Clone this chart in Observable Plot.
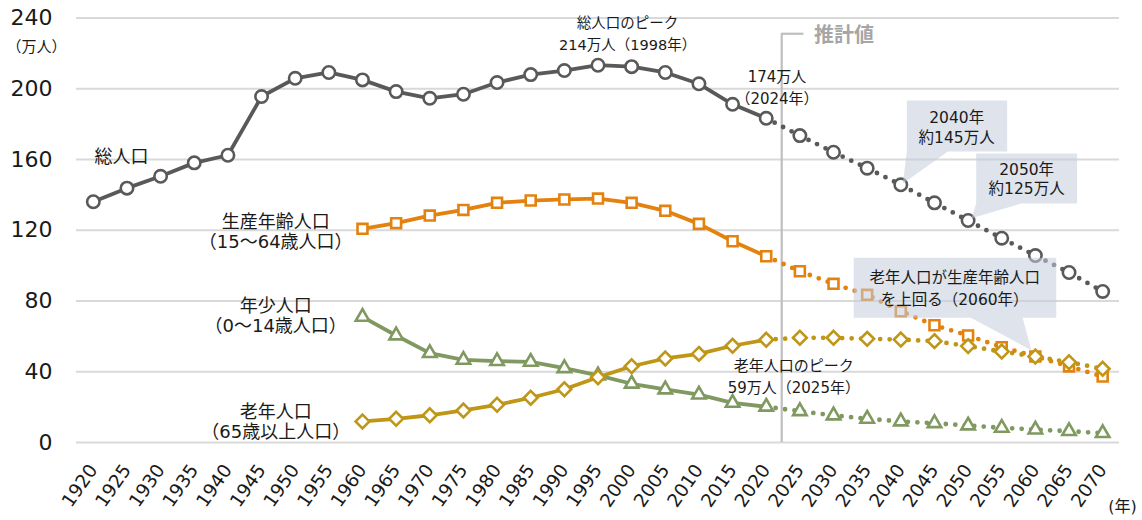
<!DOCTYPE html>
<html>
<head>
<meta charset="utf-8">
<script src="https://cdn.jsdelivr.net/npm/d3@7"></script>
<script src="https://cdn.jsdelivr.net/npm/@observablehq/plot@0.6"></script>
<style>
  html, body { margin: 0; padding: 0; background: #fff; }
  #chart { width: 1142px; height: 520px; }
</style>
</head>
<body>
<div id="chart"></div>
<script>
// ---- data (万人) ----
const years = [1920,1925,1930,1935,1940,1945,1950,1955,1960,1965,1970,1975,1980,1985,1990,1995,2000,2005,2010,2015,2020,2025,2030,2035,2040,2045,2050,2055,2060,2065,2070];
const total = [136.1,143.8,150.5,158.1,162.4,195.6,205.9,209.2,205.0,198.4,194.6,196.9,203.5,208.0,210.3,213.3,212.5,209.2,202.8,191.2,183.3,173.5,164.1,155.1,145.7,135.5,125.5,115.5,105.7,96.1,85.4];
const ageYears = [1960,1965,1970,1975,1980,1985,1990,1995,2000,2005,2010,2015,2020,2025,2030,2035,2040,2045,2050,2055,2060,2065,2070];
const working = [120.8,124.0,128.3,131.5,135.5,136.8,137.4,137.9,135.5,131.0,123.6,113.8,105.3,96.8,89.7,83.5,74.2,66.3,60.5,53.9,48.6,43.0,37.3];
const young = [71.0,60.5,50.5,46.7,46.0,45.6,42.0,37.9,33.2,30.0,27.1,22.4,20.2,17.7,15.3,13.4,11.9,10.9,9.6,8.3,7.3,6.4,5.3];
const elderly = [11.9,13.4,15.4,18.1,21.3,25.3,30.1,36.9,43.1,47.5,50.1,54.7,58.1,59.2,59.2,58.6,58.2,57.3,54.5,51.4,48.6,45.4,41.7];
const yTicks = [0,40,80,120,160,200,240];
const lastActual = 2020;
const estimateStart = 2022.3;

// ---- series table ----
const seriesDefs = [
  {name: "総人口", years: years, values: total, color: "#595959", symbol: "circle", r: 6.2},
  {name: "生産年齢人口", years: ageYears, values: working, color: "#E3820E", symbol: "square", r: 5.6},
  {name: "年少人口", years: ageYears, values: young, color: "#7F9960", symbol: "triangle", r: 5.0},
  {name: "老年人口", years: ageYears, values: elderly, color: "#BF9616", symbol: "diamond2", r: 6.2}
];

const marks = [];
// gridlines
marks.push(Plot.ruleY(yTicks, {stroke: "#D9D9D9", strokeWidth: 2}));

// estimate divider
marks.push(Plot.ruleX([estimateStart], {y1: 0, y2: 231.1, stroke: "#BFBFBF", strokeWidth: 2.2}));
marks.push(Plot.ruleY([231.1], {x1: estimateStart, x2: 2025.6, stroke: "#BFBFBF", strokeWidth: 2.2}));
marks.push(Plot.text(["推計値"], {x: 2027.1, y: 230.2, textAnchor: "start", fontSize: 20, fontWeight: "bold", fill: "#A6A6A6"}));

for (const s of seriesDefs) {
  const rows = s.years.map((y, i) => ({year: y, v: s.values[i]}));
  marks.push(Plot.line(rows.filter(d => d.year <= lastActual), {x: "year", y: "v", stroke: s.color, strokeWidth: 3.8}));
  marks.push(Plot.line(rows.filter(d => d.year >= lastActual), {x: "year", y: "v", stroke: s.color, strokeWidth: 4.8, strokeDasharray: "0 9.5", strokeLinecap: "round"}));
  marks.push(Plot.dot(rows, {x: "year", y: "v", symbol: () => s.symbol, r: s.r, stroke: s.color, fill: "white", strokeWidth: 2.6}));
}

// callouts (box + pointer as one polygon, in data coordinates)
const callouts = [
  {id: 1, box: [2040.9, 2055.8, 164.5, 193.3], base: [2047.0, 2040.9], tip: [2040.3, 146.5],
   text: "2040年\n約145万人", tx: 2048.3, ty: 178.6, lh: 1.33},
  {id: 2, box: [2051.2, 2066.2, 135.1, 163.4], base: [2057.9, 2051.2], tip: [2050.5, 126.8],
   text: "2050年\n約125万人", tx: 2058.7, ty: 149.3, lh: 1.23},
  {id: 3, box: [2033.0, 2063.1, 70.5, 104.4], base: [2058.1, 2050.4], tip: [2059.4, 52.2],
   text: "老年人口が生産年齢人口\nを上回る（2060年）", tx: 2048.0, ty: 87.8, lh: 1.4}
];
const poly = [];
for (const c of callouts) {
  const [x1, x2, y1, y2] = c.box;
  poly.push({id: c.id, x: x1, y: y2}, {id: c.id, x: x2, y: y2}, {id: c.id, x: x2, y: y1},
            {id: c.id, x: c.base[0], y: y1}, {id: c.id, x: c.tip[0], y: c.tip[1]},
            {id: c.id, x: c.base[1], y: y1}, {id: c.id, x: x1, y: y1});
}
marks.push(Plot.line(poly, {x: "x", y: "y", z: "id", fill: "#C3CCDC", fillOpacity: 0.55, stroke: "none"}));
for (const c of callouts) {
  marks.push(Plot.text([c.text], {x: c.tx, y: c.ty, fontSize: 15.5, lineHeight: c.lh, fill: "#1a1a1a"}));
}

// annotations
const notes = [
  {text: "総人口", x: 1924.2, y: 161.1, size: 18, lh: 1},
  {text: "総人口のピーク\n214万人（1998年）", x: 1999.4, y: 232.2, size: 14.5, lh: 1.5},
  {text: "174万人\n（2024年）", x: 2021.6, y: 201.4, size: 15, lh: 1.42},
  {text: "生産年齢人口\n（15～64歳人口）", x: 1947.1, y: 119.3, size: 18, lh: 1.12},
  {text: "年少人口\n（0～14歳人口）", x: 1947.1, y: 71.8, size: 18, lh: 1.12},
  {text: "老年人口\n（65歳以上人口）", x: 1947.1, y: 11.9, size: 18, lh: 1.12},
  {text: "老年人口のピーク\n59万人（2025年）", x: 2024.1, y: 38.3, size: 15, lh: 1.5}
];
for (const n of notes) {
  marks.push(Plot.text([n.text], {x: n.x, y: n.y, fontSize: n.size, lineHeight: n.lh, fill: "#1a1a1a"}));
}

// axes
marks.push(Plot.axisY(yTicks, {tickSize: 0, tickPadding: 24, fontSize: 22, label: null, fill: "#1a1a1a"}));
marks.push(Plot.axisX(years, {tickSize: 0, tickPadding: 24, tickRotate: -55, fontSize: 18.5, label: null, tickFormat: "d", fill: "#1a1a1a"}));
marks.push(Plot.text(["（万人）"], {frameAnchor: "top-left", textAnchor: "middle", lineAnchor: "middle", dx: -40, dy: 29.2, fontSize: 15, fill: "#1a1a1a"}));
marks.push(Plot.text(["(年)"], {frameAnchor: "bottom-right", textAnchor: "middle", lineAnchor: "middle", dx: 3, dy: 64.7, fontSize: 16, fill: "#1a1a1a"}));

const chart = Plot.plot({
  width: 1142,
  height: 520,
  marginTop: 17.5,
  marginBottom: 78,
  marginLeft: 76,
  marginRight: 23,
  x: {domain: [1917.5, 2072.5], label: null, axis: null},
  y: {domain: [0, 240], label: null, axis: null},
  style: {fontFamily: '"DejaVu Sans", "Noto Sans CJK JP", sans-serif', background: "white", color: "#1a1a1a", overflow: "visible"},
  marks
});
document.getElementById("chart").appendChild(chart);
</script>
</body>
</html>
